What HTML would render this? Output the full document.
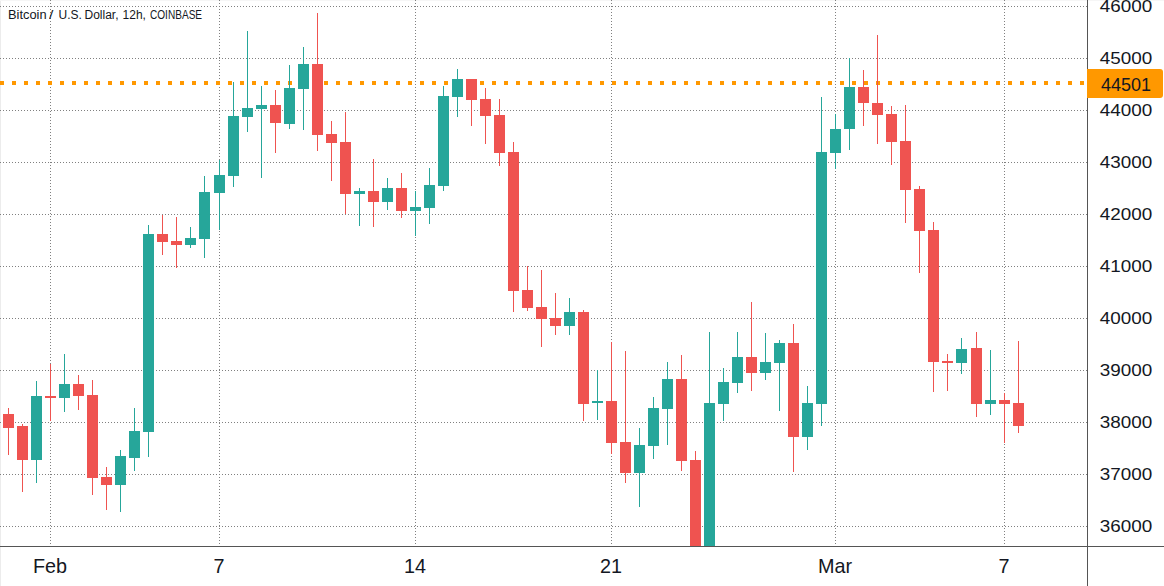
<!DOCTYPE html>
<html><head><meta charset="utf-8"><style>
html,body{margin:0;padding:0;background:#fff;}
body{width:1164px;height:586px;overflow:hidden;position:relative;font-family:"Liberation Sans",sans-serif;color:#131722;}
svg{position:absolute;left:0;top:0;}
.t{position:absolute;white-space:nowrap;line-height:1;}
.tw{position:absolute;top:9px;font-size:12px;line-height:1;white-space:nowrap;transform-origin:0 0;}
.pl{position:absolute;left:1088px;width:76px;text-align:center;font-size:17px;line-height:20px;transform:scaleX(1.11);transform-origin:38px 0;}
.tl{position:absolute;top:556px;width:60px;text-align:center;font-size:19.8px;line-height:20px;}
.tag{position:absolute;left:1087px;top:69px;width:76px;height:29px;background:#ff9800;border-radius:0 3px 3px 0;color:#131722;}
.tag span{position:absolute;left:1px;top:1.5px;width:76px;text-align:center;font-size:18px;line-height:29px;transform:scaleX(1.0);transform-origin:38px 0;}
</style></head><body>
<svg width="1164" height="586" viewBox="0 0 1164 586" shape-rendering="crispEdges">
<rect x="0" y="0" width="1" height="586" fill="#ececec"/>
<rect x="0" y="0" width="1164" height="1" fill="#f6f6f6"/>
<line x1="0" y1="6.5" x2="1087" y2="6.5" stroke="#808080" stroke-width="1" stroke-dasharray="1 2"/>
<line x1="0" y1="58.5" x2="1087" y2="58.5" stroke="#808080" stroke-width="1" stroke-dasharray="1 2"/>
<line x1="0" y1="110.5" x2="1087" y2="110.5" stroke="#808080" stroke-width="1" stroke-dasharray="1 2"/>
<line x1="0" y1="162.5" x2="1087" y2="162.5" stroke="#808080" stroke-width="1" stroke-dasharray="1 2"/>
<line x1="0" y1="214.5" x2="1087" y2="214.5" stroke="#808080" stroke-width="1" stroke-dasharray="1 2"/>
<line x1="0" y1="266.5" x2="1087" y2="266.5" stroke="#808080" stroke-width="1" stroke-dasharray="1 2"/>
<line x1="0" y1="318.5" x2="1087" y2="318.5" stroke="#808080" stroke-width="1" stroke-dasharray="1 2"/>
<line x1="0" y1="370.5" x2="1087" y2="370.5" stroke="#808080" stroke-width="1" stroke-dasharray="1 2"/>
<line x1="0" y1="422.5" x2="1087" y2="422.5" stroke="#808080" stroke-width="1" stroke-dasharray="1 2"/>
<line x1="0" y1="474.5" x2="1087" y2="474.5" stroke="#808080" stroke-width="1" stroke-dasharray="1 2"/>
<line x1="0" y1="526.5" x2="1087" y2="526.5" stroke="#808080" stroke-width="1" stroke-dasharray="1 2"/>
<line x1="50.5" y1="0" x2="50.5" y2="546" stroke="#808080" stroke-width="1" stroke-dasharray="1 2"/>
<line x1="219.5" y1="0" x2="219.5" y2="546" stroke="#808080" stroke-width="1" stroke-dasharray="1 2"/>
<line x1="415.5" y1="0" x2="415.5" y2="546" stroke="#808080" stroke-width="1" stroke-dasharray="1 2"/>
<line x1="611.5" y1="0" x2="611.5" y2="546" stroke="#808080" stroke-width="1" stroke-dasharray="1 2"/>
<line x1="835.5" y1="0" x2="835.5" y2="546" stroke="#808080" stroke-width="1" stroke-dasharray="1 2"/>
<line x1="1004.5" y1="0" x2="1004.5" y2="546" stroke="#808080" stroke-width="1" stroke-dasharray="1 2"/>
<line x1="0" y1="83" x2="1087" y2="83" stroke="#ff9800" stroke-width="4" stroke-dasharray="4 8"/>
<rect x="8" y="408" width="1" height="47" fill="#ef5350"/>
<rect x="3" y="414" width="11" height="14" fill="#ef5350"/>
<rect x="22" y="424" width="1" height="68" fill="#ef5350"/>
<rect x="17" y="426" width="11" height="34" fill="#ef5350"/>
<rect x="36" y="381" width="1" height="102" fill="#26a69a"/>
<rect x="31" y="396" width="11" height="64" fill="#26a69a"/>
<rect x="50" y="364" width="1" height="57" fill="#ef5350"/>
<rect x="45" y="396" width="11" height="2" fill="#ef5350"/>
<rect x="64" y="354" width="1" height="58" fill="#26a69a"/>
<rect x="59" y="384" width="11" height="14" fill="#26a69a"/>
<rect x="78" y="375" width="1" height="35" fill="#ef5350"/>
<rect x="73" y="384" width="11" height="12" fill="#ef5350"/>
<rect x="92" y="380" width="1" height="115" fill="#ef5350"/>
<rect x="87" y="395" width="11" height="83" fill="#ef5350"/>
<rect x="106" y="467" width="1" height="43" fill="#ef5350"/>
<rect x="101" y="477" width="11" height="8" fill="#ef5350"/>
<rect x="120" y="450" width="1" height="62" fill="#26a69a"/>
<rect x="115" y="456" width="11" height="29" fill="#26a69a"/>
<rect x="134" y="408" width="1" height="63" fill="#26a69a"/>
<rect x="129" y="431" width="11" height="27" fill="#26a69a"/>
<rect x="148" y="225" width="1" height="232" fill="#26a69a"/>
<rect x="143" y="234" width="11" height="198" fill="#26a69a"/>
<rect x="162" y="215" width="1" height="40" fill="#ef5350"/>
<rect x="157" y="234" width="11" height="8" fill="#ef5350"/>
<rect x="176" y="217" width="1" height="51" fill="#ef5350"/>
<rect x="171" y="241" width="11" height="4" fill="#ef5350"/>
<rect x="190" y="227" width="1" height="21" fill="#26a69a"/>
<rect x="185" y="238" width="11" height="7" fill="#26a69a"/>
<rect x="204" y="176" width="1" height="82" fill="#26a69a"/>
<rect x="199" y="192" width="11" height="47" fill="#26a69a"/>
<rect x="219" y="160" width="1" height="70" fill="#26a69a"/>
<rect x="214" y="175" width="11" height="18" fill="#26a69a"/>
<rect x="233" y="82" width="1" height="105" fill="#26a69a"/>
<rect x="228" y="116" width="11" height="60" fill="#26a69a"/>
<rect x="247" y="31" width="1" height="101" fill="#26a69a"/>
<rect x="242" y="108" width="11" height="9" fill="#26a69a"/>
<rect x="261" y="86" width="1" height="92" fill="#26a69a"/>
<rect x="256" y="105" width="11" height="4" fill="#26a69a"/>
<rect x="275" y="90" width="1" height="63" fill="#ef5350"/>
<rect x="270" y="105" width="11" height="18" fill="#ef5350"/>
<rect x="289" y="65" width="1" height="64" fill="#26a69a"/>
<rect x="284" y="88" width="11" height="36" fill="#26a69a"/>
<rect x="303" y="47" width="1" height="83" fill="#26a69a"/>
<rect x="298" y="64" width="11" height="25" fill="#26a69a"/>
<rect x="317" y="13" width="1" height="138" fill="#ef5350"/>
<rect x="312" y="64" width="11" height="71" fill="#ef5350"/>
<rect x="331" y="121" width="1" height="60" fill="#ef5350"/>
<rect x="326" y="134" width="11" height="9" fill="#ef5350"/>
<rect x="345" y="112" width="1" height="102" fill="#ef5350"/>
<rect x="340" y="142" width="11" height="52" fill="#ef5350"/>
<rect x="359" y="188" width="1" height="38" fill="#26a69a"/>
<rect x="354" y="191" width="11" height="3" fill="#26a69a"/>
<rect x="373" y="159" width="1" height="68" fill="#ef5350"/>
<rect x="368" y="191" width="11" height="11" fill="#ef5350"/>
<rect x="387" y="178" width="1" height="32" fill="#26a69a"/>
<rect x="382" y="188" width="11" height="14" fill="#26a69a"/>
<rect x="401" y="173" width="1" height="45" fill="#ef5350"/>
<rect x="396" y="188" width="11" height="23" fill="#ef5350"/>
<rect x="415" y="191" width="1" height="45" fill="#26a69a"/>
<rect x="410" y="207" width="11" height="4" fill="#26a69a"/>
<rect x="429" y="168" width="1" height="56" fill="#26a69a"/>
<rect x="424" y="185" width="11" height="23" fill="#26a69a"/>
<rect x="443" y="86" width="1" height="105" fill="#26a69a"/>
<rect x="438" y="96" width="11" height="90" fill="#26a69a"/>
<rect x="457" y="69" width="1" height="48" fill="#26a69a"/>
<rect x="452" y="79" width="11" height="18" fill="#26a69a"/>
<rect x="471" y="79" width="1" height="47" fill="#ef5350"/>
<rect x="466" y="79" width="11" height="21" fill="#ef5350"/>
<rect x="485" y="88" width="1" height="56" fill="#ef5350"/>
<rect x="480" y="99" width="11" height="17" fill="#ef5350"/>
<rect x="499" y="99" width="1" height="67" fill="#ef5350"/>
<rect x="494" y="115" width="11" height="38" fill="#ef5350"/>
<rect x="513" y="142" width="1" height="170" fill="#ef5350"/>
<rect x="508" y="152" width="11" height="139" fill="#ef5350"/>
<rect x="527" y="266" width="1" height="45" fill="#ef5350"/>
<rect x="522" y="290" width="11" height="18" fill="#ef5350"/>
<rect x="541" y="270" width="1" height="77" fill="#ef5350"/>
<rect x="536" y="307" width="11" height="12" fill="#ef5350"/>
<rect x="555" y="293" width="1" height="42" fill="#ef5350"/>
<rect x="550" y="318" width="11" height="8" fill="#ef5350"/>
<rect x="569" y="298" width="1" height="37" fill="#26a69a"/>
<rect x="564" y="312" width="11" height="14" fill="#26a69a"/>
<rect x="583" y="310" width="1" height="111" fill="#ef5350"/>
<rect x="578" y="312" width="11" height="92" fill="#ef5350"/>
<rect x="597" y="370" width="1" height="50" fill="#26a69a"/>
<rect x="592" y="401" width="11" height="2" fill="#26a69a"/>
<rect x="611" y="342" width="1" height="112" fill="#ef5350"/>
<rect x="606" y="401" width="11" height="42" fill="#ef5350"/>
<rect x="625" y="351" width="1" height="132" fill="#ef5350"/>
<rect x="620" y="442" width="11" height="31" fill="#ef5350"/>
<rect x="639" y="428" width="1" height="79" fill="#26a69a"/>
<rect x="634" y="445" width="11" height="28" fill="#26a69a"/>
<rect x="653" y="397" width="1" height="62" fill="#26a69a"/>
<rect x="648" y="408" width="11" height="38" fill="#26a69a"/>
<rect x="667" y="362" width="1" height="83" fill="#26a69a"/>
<rect x="662" y="379" width="11" height="30" fill="#26a69a"/>
<rect x="681" y="355" width="1" height="116" fill="#ef5350"/>
<rect x="676" y="379" width="11" height="82" fill="#ef5350"/>
<rect x="695" y="451" width="1" height="95" fill="#ef5350"/>
<rect x="690" y="460" width="11" height="86" fill="#ef5350"/>
<rect x="709" y="332" width="1" height="214" fill="#26a69a"/>
<rect x="704" y="403" width="11" height="143" fill="#26a69a"/>
<rect x="723" y="368" width="1" height="53" fill="#26a69a"/>
<rect x="718" y="382" width="11" height="22" fill="#26a69a"/>
<rect x="737" y="332" width="1" height="61" fill="#26a69a"/>
<rect x="732" y="357" width="11" height="26" fill="#26a69a"/>
<rect x="751" y="302" width="1" height="89" fill="#ef5350"/>
<rect x="746" y="357" width="11" height="16" fill="#ef5350"/>
<rect x="765" y="333" width="1" height="47" fill="#26a69a"/>
<rect x="760" y="362" width="11" height="11" fill="#26a69a"/>
<rect x="779" y="340" width="1" height="71" fill="#26a69a"/>
<rect x="774" y="343" width="11" height="20" fill="#26a69a"/>
<rect x="793" y="324" width="1" height="148" fill="#ef5350"/>
<rect x="788" y="343" width="11" height="94" fill="#ef5350"/>
<rect x="807" y="386" width="1" height="64" fill="#26a69a"/>
<rect x="802" y="403" width="11" height="34" fill="#26a69a"/>
<rect x="821" y="97" width="1" height="329" fill="#26a69a"/>
<rect x="816" y="152" width="11" height="252" fill="#26a69a"/>
<rect x="835" y="114" width="1" height="55" fill="#26a69a"/>
<rect x="830" y="129" width="11" height="24" fill="#26a69a"/>
<rect x="849" y="58" width="1" height="92" fill="#26a69a"/>
<rect x="844" y="87" width="11" height="42" fill="#26a69a"/>
<rect x="863" y="70" width="1" height="56" fill="#ef5350"/>
<rect x="858" y="87" width="11" height="16" fill="#ef5350"/>
<rect x="877" y="35" width="1" height="109" fill="#ef5350"/>
<rect x="872" y="103" width="11" height="12" fill="#ef5350"/>
<rect x="891" y="106" width="1" height="59" fill="#ef5350"/>
<rect x="886" y="114" width="11" height="28" fill="#ef5350"/>
<rect x="905" y="105" width="1" height="118" fill="#ef5350"/>
<rect x="900" y="141" width="11" height="49" fill="#ef5350"/>
<rect x="919" y="186" width="1" height="87" fill="#ef5350"/>
<rect x="914" y="189" width="11" height="42" fill="#ef5350"/>
<rect x="933" y="222" width="1" height="170" fill="#ef5350"/>
<rect x="928" y="230" width="11" height="132" fill="#ef5350"/>
<rect x="947" y="354" width="1" height="37" fill="#ef5350"/>
<rect x="942" y="361" width="11" height="2" fill="#ef5350"/>
<rect x="961" y="338" width="1" height="36" fill="#26a69a"/>
<rect x="956" y="349" width="11" height="14" fill="#26a69a"/>
<rect x="976" y="332" width="1" height="85" fill="#ef5350"/>
<rect x="971" y="348" width="11" height="56" fill="#ef5350"/>
<rect x="990" y="350" width="1" height="65" fill="#26a69a"/>
<rect x="985" y="400" width="11" height="4" fill="#26a69a"/>
<rect x="1004" y="393" width="1" height="50" fill="#ef5350"/>
<rect x="999" y="400" width="11" height="4" fill="#ef5350"/>
<rect x="1018" y="341" width="1" height="92" fill="#ef5350"/>
<rect x="1013" y="403" width="11" height="23" fill="#ef5350"/>
<rect x="1087" y="0" width="1" height="586" fill="#555555"/>
<rect x="0" y="546" width="1164" height="1" fill="#555555"/>
</svg>
<div class="tw" style="left:7.7px;transform:scaleX(1.07)">Bitcoin</div>
<div class="tw" style="left:49.4px;transform:scaleX(1.3)">/</div>
<div class="tw" style="left:58.5px">U.S.</div>
<div class="tw" style="left:84.5px">Dollar,</div>
<div class="tw" style="left:122.6px">12h,</div>
<div class="tw" style="left:150.2px;transform:scaleX(0.84)">COINBASE</div>
<div class="pl" style="top:-3px">46000</div>
<div class="pl" style="top:49px">45000</div>
<div class="pl" style="top:101px">44000</div>
<div class="pl" style="top:153px">43000</div>
<div class="pl" style="top:205px">42000</div>
<div class="pl" style="top:257px">41000</div>
<div class="pl" style="top:309px">40000</div>
<div class="pl" style="top:361px">39000</div>
<div class="pl" style="top:413px">38000</div>
<div class="pl" style="top:465px">37000</div>
<div class="pl" style="top:517px">36000</div>
<div class="tag"><span>44501</span></div>
<div class="tl" style="left:20px">Feb</div>
<div class="tl" style="left:189px">7</div>
<div class="tl" style="left:385px">14</div>
<div class="tl" style="left:581px">21</div>
<div class="tl" style="left:805px">Mar</div>
<div class="tl" style="left:974px">7</div>
</body></html>
